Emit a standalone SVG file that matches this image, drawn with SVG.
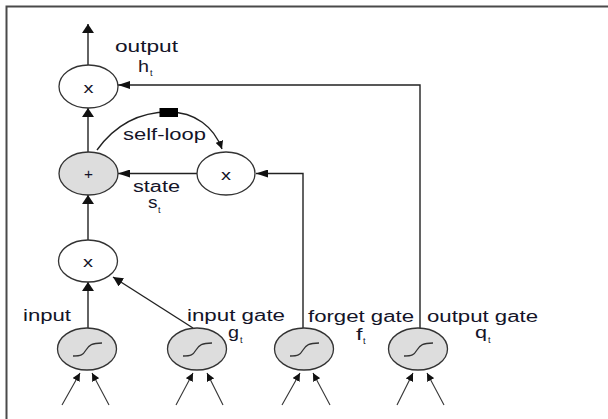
<svg xmlns="http://www.w3.org/2000/svg" width="608" height="419" viewBox="0 0 608 419">
  <defs>
    <style>
      .frame { stroke: #4a4a4a; stroke-width: 2; fill: none; }
      .op { fill: #ffffff; stroke: #333333; stroke-width: 1.3; }
      .unit { fill: #dddddd; stroke: #333333; stroke-width: 1.3; }
      .sig { fill: none; stroke: #333333; stroke-width: 1.3; }
      .wire { fill: none; stroke: #222222; stroke-width: 1.4; }
      .feed { fill: none; stroke: #333333; stroke-width: 1.1; }
      .lbl { font-family: "Liberation Sans", Arial, sans-serif; font-size: 16px; fill: #141428; }
      .sub { font-family: "Liberation Sans", Arial, sans-serif; font-size: 9px; fill: #141428; }
      .sym { font-family: "Liberation Sans", Arial, sans-serif; font-size: 15px; fill: #141428; text-anchor: middle; }
    </style>
    <!-- arrowheads: horizontal runs are longer, vertical runs wider -->
    <marker id="ah" markerUnits="userSpaceOnUse" markerWidth="12" markerHeight="8" refX="12" refY="4" orient="auto">
      <path d="M0,0 L12,4 L0,8 z" fill="#111"/>
    </marker>
    <marker id="av" markerUnits="userSpaceOnUse" markerWidth="9" markerHeight="12" refX="9" refY="6" orient="auto">
      <path d="M0,0 L9,6 L0,12 z" fill="#111"/>
    </marker>
    <marker id="ad" markerUnits="userSpaceOnUse" markerWidth="10" markerHeight="10" refX="10" refY="5" orient="auto">
      <path d="M0,0 L10,5 L0,10 z" fill="#111"/>
    </marker>
    <marker id="as" markerUnits="userSpaceOnUse" markerWidth="8" markerHeight="8" refX="8" refY="4" orient="auto">
      <path d="M0,0 L8,4 L0,8 z" fill="#111"/>
    </marker>
    <path id="sigmoid" d="M-14,7 C-6,7 -4,6 -1,1 S5,-6 15,-6"/>
  </defs>

  <!-- outer frame (top and left edges) -->
  <path class="frame" d="M6.5,419 V6.5 H608"/>

  <!-- connectors -->
  <g id="connectors">
    <path class="wire" d="M88,65 V24" marker-end="url(#av)"/>
    <path class="wire" d="M420,328 V85 H118" marker-end="url(#ah)"/>
    <path class="wire" d="M88,152 V108" marker-end="url(#av)"/>
    <path class="wire" d="M97,150 C115,125 140,112 169,112 C195,112 214,127 222,149" marker-end="url(#as)"/>
    <path class="wire" d="M197,173.5 H118" marker-end="url(#ah)"/>
    <path class="wire" d="M303,328 V173.5 H256" marker-end="url(#ah)"/>
    <path class="wire" d="M88,240 V195" marker-end="url(#av)"/>
    <path class="wire" d="M88,328 V282" marker-end="url(#av)"/>
    <path class="wire" d="M193,328 L113,277" marker-end="url(#ad)"/>
    <!-- incoming weights to each sigmoid unit -->
    <path class="feed" d="M62,405 L80,373" marker-end="url(#as)"/>
    <path class="feed" d="M109,405 L92,373" marker-end="url(#as)"/>
    <path class="feed" d="M176,405 L193,373" marker-end="url(#as)"/>
    <path class="feed" d="M223,405 L207,373" marker-end="url(#as)"/>
    <path class="feed" d="M282,405 L300,373" marker-end="url(#as)"/>
    <path class="feed" d="M330,405 L313,373" marker-end="url(#as)"/>
    <path class="feed" d="M397,405 L413,373" marker-end="url(#as)"/>
    <path class="feed" d="M444,405 L427,373" marker-end="url(#as)"/>
  </g>

  <!-- delay box on the self-loop -->
  <rect x="159.5" y="108" width="18.5" height="9" fill="#000"/>

  <g id="out-mul">
    <ellipse class="op" cx="88.5" cy="86.5" rx="29.5" ry="21.5"/>
    <text class="sym" x="88.5" y="92.5" textLength="10" lengthAdjust="spacingAndGlyphs">x</text>
  </g>
  <g id="state-sum">
    <ellipse class="unit" cx="88.5" cy="173.5" rx="29.5" ry="21.5"/>
    <text class="sym" x="88.5" y="179" textLength="9" lengthAdjust="spacingAndGlyphs">+</text>
  </g>
  <g id="forget-mul">
    <ellipse class="op" cx="226" cy="173.5" rx="29" ry="21.5"/>
    <text class="sym" x="226" y="179.5" textLength="10" lengthAdjust="spacingAndGlyphs">x</text>
  </g>
  <g id="in-mul">
    <ellipse class="op" cx="88" cy="261" rx="29.5" ry="21"/>
    <text class="sym" x="88" y="267" textLength="10" lengthAdjust="spacingAndGlyphs">x</text>
  </g>

  <g id="input-unit">
    <ellipse class="unit" cx="87" cy="349" rx="29.5" ry="21"/>
    <use href="#sigmoid" class="sig" x="87" y="349"/>
  </g>
  <g id="input-gate-unit">
    <ellipse class="unit" cx="197" cy="349" rx="29.5" ry="21"/>
    <use href="#sigmoid" class="sig" x="197" y="349"/>
  </g>
  <g id="forget-gate-unit">
    <ellipse class="unit" cx="304" cy="349" rx="29.5" ry="21"/>
    <use href="#sigmoid" class="sig" x="304" y="349"/>
  </g>
  <g id="output-gate-unit">
    <ellipse class="unit" cx="418" cy="349" rx="29.5" ry="21"/>
    <use href="#sigmoid" class="sig" x="418" y="349"/>
  </g>

  <!-- labels -->
  <g id="labels">
    <text class="lbl" x="115" y="52" textLength="63" lengthAdjust="spacingAndGlyphs">output</text>
    <text class="lbl" x="138" y="72" textLength="11" lengthAdjust="spacingAndGlyphs">h</text>
    <text class="sub" x="150" y="76">t</text>
    <text class="lbl" x="123" y="140" textLength="83" lengthAdjust="spacingAndGlyphs">self-loop</text>
    <text class="lbl" x="133" y="192" textLength="47" lengthAdjust="spacingAndGlyphs">state</text>
    <text class="lbl" x="148" y="208" textLength="9.5" lengthAdjust="spacingAndGlyphs">s</text>
    <text class="sub" x="158" y="213">t</text>
    <text class="lbl" x="23" y="321" textLength="48" lengthAdjust="spacingAndGlyphs">input</text>
    <text class="lbl" x="187" y="321" textLength="98" lengthAdjust="spacingAndGlyphs">input gate</text>
    <text class="lbl" x="228" y="338" textLength="11" lengthAdjust="spacingAndGlyphs">g</text>
    <text class="sub" x="240" y="343">t</text>
    <text class="lbl" x="308" y="322" textLength="106" lengthAdjust="spacingAndGlyphs">forget gate</text>
    <text class="lbl" x="356" y="340" textLength="6.5" lengthAdjust="spacingAndGlyphs">f</text>
    <text class="sub" x="363" y="344">t</text>
    <text class="lbl" x="427" y="322" textLength="111" lengthAdjust="spacingAndGlyphs">output gate</text>
    <text class="lbl" x="475" y="338" textLength="12" lengthAdjust="spacingAndGlyphs">q</text>
    <text class="sub" x="488" y="343">t</text>
  </g>
</svg>
